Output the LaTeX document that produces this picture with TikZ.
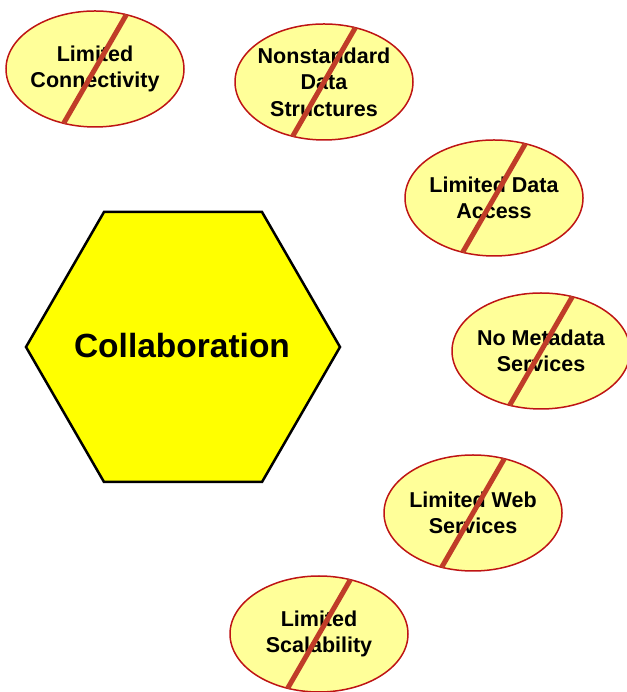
\documentclass[tikz,border=0pt]{standalone}
\usepackage{fontspec}
\setmainfont{Liberation Sans}
\usetikzlibrary{shapes.geometric}
\definecolor{ellfill}{RGB}{255,255,153}
\definecolor{ellborder}{RGB}{190,20,20}
\definecolor{slashred}{RGB}{192,60,40}
\definecolor{hexfill}{RGB}{255,255,0}
\tikzset{
  barrier/.style={ellipse, draw=ellborder, fill=ellfill, line width=1.5pt,
    minimum width=178pt, minimum height=116pt, inner sep=0pt, outer sep=0pt},
  barriertext/.style={align=center, font=\bfseries\fontsize{21.5}{26.5}\selectfont, inner sep=0pt},
  slash/.style={draw=slashred, line width=5pt},
  hexagon/.style={draw=black, fill=hexfill, line width=2.5pt, line join=miter}
}
\begin{document}
\begin{tikzpicture}[x=1pt,y=1pt]
\useasboundingbox (0,0) rectangle (626,692);
% hexagon
\draw[hexagon] (104,480) -- (262,480) -- (340,345) -- (262,210) -- (104,210) -- (26,345) -- cycle;
\node[font=\bfseries\fontsize{33.5}{40}\selectfont, inner sep=0pt] (collab) at (182,346) {Collaboration};
% barriers
\foreach \n/\x/\y/\t in {
  e1/95/623/{Limited\\Connectivity},
  e2/324/610/{Nonstandard\\Data\\Structures},
  e3/494/494/{Limited Data\\Access},
  e4/541/341/{No Metadata\\Services},
  e5/473/179/{Limited Web\\Services},
  e6/319/58/{Limited\\Scalability}}{
  \node[barrier] (\n) at (\x,\y) {};
  \node[barriertext] (\n t) at (\n) {\t};
  \draw[slash] (\n.240) -- (\n.60);
}
\end{tikzpicture}
\end{document}
